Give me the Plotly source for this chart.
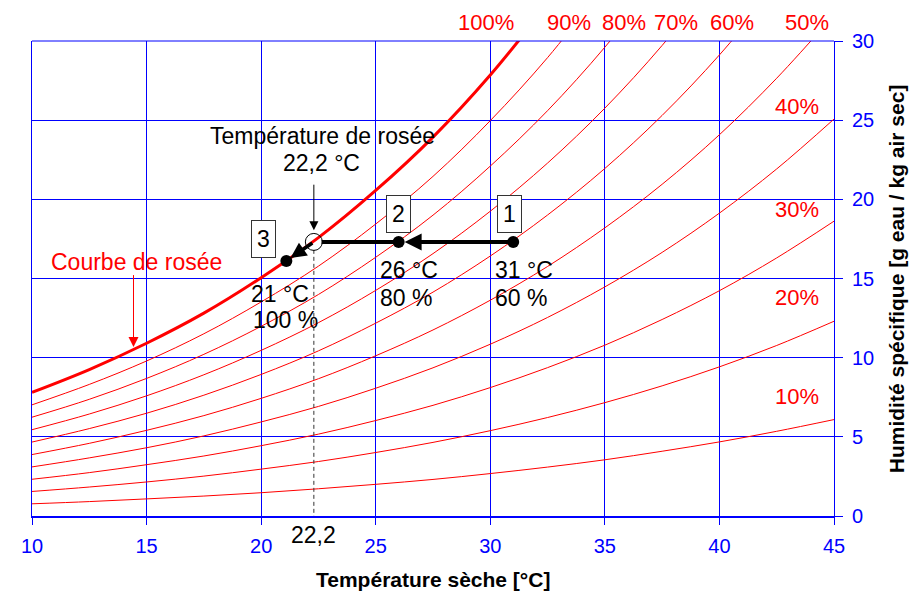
import plotly.graph_objects as go

# Dry-bulb temperatures (°C) at which the curves were read
temps = [10, 12.5, 15, 17.5, 20, 22.5, 25, 27.5, 30, 32.5, 35, 37.5, 40, 42.5, 45]

# Specific humidity (g water / kg dry air)
rh_100 = [7.81, 9.25, 10.91, 12.81, 15.05, 17.58, 20.56, 23.93, 27.85, 32.33]
rh_90 = [7.02, 8.31, 9.79, 11.51, 13.52, 15.78, 18.44, 21.45, 24.97, 28.95, 33.52]
rh_80 = [6.24, 7.37, 8.69, 10.21, 11.98, 13.99, 16.34, 19.00, 22.10, 25.60, 29.61, 34.19]
rh_70 = [5.45, 6.44, 7.59, 8.92, 10.46, 12.21, 14.25, 16.57, 19.25, 22.29, 25.76, 29.72, 34.24]
rh_60 = [4.67, 5.52, 6.49, 7.63, 8.94, 10.43, 12.18, 14.14, 16.42, 19.01, 21.95, 25.30, 29.12, 33.46]
rh_50 = [3.88, 4.59, 5.41, 6.34, 7.43, 8.67, 10.12, 11.75, 13.63, 15.76, 18.20, 20.95, 24.08, 27.65, 31.65]
rh_40 = [3.10, 3.67, 4.31, 5.06, 5.94, 6.92, 8.07, 9.36, 10.85, 12.54, 14.47, 16.65, 19.13, 21.92, 25.07]
rh_30 = [2.32, 2.74, 3.24, 3.79, 4.44, 5.17, 6.03, 6.99, 8.11, 9.37, 10.79, 12.41, 14.23, 16.30, 18.62]
rh_20 = [1.55, 1.83, 2.15, 2.52, 2.96, 3.44, 4.01, 4.65, 5.39, 6.22, 7.16, 8.22, 9.42, 10.77, 12.30]
rh_10 = [0.77, 0.91, 1.08, 1.26, 1.47, 1.72, 2.00, 2.31, 2.68, 3.09, 3.55, 4.09, 4.68, 5.35, 6.09]

thin_curves = [rh_90, rh_80, rh_70, rh_60, rh_50, rh_40, rh_30, rh_20, rh_10]

# Curve labels
top_labels = ["100%", "90%", "80%", "70%", "60%", "50%"]
top_label_x = [29.80, 33.43, 35.83, 38.10, 40.54, 43.81]
side_labels = ["40%", "30%", "20%", "10%"]
side_label_x = 43.39
side_label_y = [25.84, 19.36, 13.80, 7.56]

# Cooling process: 1 -> 2 -> dew point -> 3
pt_x = [31, 26, 21.1]
pt_y = [17.31, 17.31, 16.11]
pt_names = ["1", "2", "3"]
pt_box_x = [30.83, 25.99, 20.10]
pt_box_y = [19.10, 19.06, 17.52]
dew_x = 22.3
dew_y = 17.31
line_end_x = 22.64

x_ticks = [10, 15, 20, 25, 30, 35, 40, 45]
y_ticks = [0, 5, 10, 15, 20, 25, 30]

FONT = "Liberation Sans, Arial, sans-serif"
RED = "#FF0000"
BLUE = "#0000FF"

fig = go.Figure()

for c in thin_curves:
    fig.add_trace(go.Scatter(x=temps[:len(c)], y=c, mode="lines",
                             line=dict(color=RED, width=1, shape="spline"),
                             showlegend=False, hoverinfo="skip"))
fig.add_trace(go.Scatter(x=temps[:len(rh_100)], y=rh_100, mode="lines",
                         line=dict(color=RED, width=3, shape="spline"),
                         showlegend=False, hoverinfo="skip"))

# dashed vertical at dew point
fig.add_trace(go.Scatter(x=[dew_x, dew_x], y=[dew_y - 0.5, 0], mode="lines",
                         line=dict(color="#333333", width=1, dash="4px,3px"),
                         showlegend=False, hoverinfo="skip"))
# thick line 2 -> dew point
fig.add_trace(go.Scatter(x=[pt_x[1], line_end_x], y=[pt_y[1], dew_y], mode="lines",
                         line=dict(color="black", width=4),
                         showlegend=False, hoverinfo="skip"))
# dew point circle
fig.add_trace(go.Scatter(x=[dew_x], y=[dew_y], mode="markers",
                         marker=dict(symbol="circle-open", size=17, color="black",
                                     line=dict(color="black", width=1)),
                         showlegend=False, hoverinfo="skip"))
# state points
fig.add_trace(go.Scatter(x=pt_x, y=pt_y, mode="markers",
                         marker=dict(color="black", size=12),
                         showlegend=False, hoverinfo="skip"))

ann = []
for t, x in zip(top_labels, top_label_x):
    ann.append(dict(x=x, y=30, yshift=19, text=t, showarrow=False,
                    yanchor="middle",
                    font=dict(color=RED, size=22, family=FONT)))
for t, y in zip(side_labels, side_label_y):
    ann.append(dict(x=side_label_x, y=y, text=t, showarrow=False,
                    font=dict(color=RED, size=22, family=FONT)))
for t, x, y in zip(pt_names, pt_box_x, pt_box_y):
    ann.append(dict(x=x, y=y, text=t, showarrow=False,
                    font=dict(color="black", size=23, family=FONT),
                    bordercolor="#333333", borderwidth=1, borderpad=5,
                    bgcolor="white"))

# arrows
ann.append(dict(x=pt_x[1], y=pt_y[1], ax=pt_x[0], ay=pt_y[0], axref="x", ayref="y",
                showarrow=True, arrowhead=2, arrowsize=0.85, arrowwidth=4,
                arrowcolor="black", standoff=6, text=""))
ann.append(dict(x=pt_x[2], y=pt_y[2], ax=dew_x, ay=dew_y, axref="x", ayref="y",
                showarrow=True, arrowhead=2, arrowsize=0.9, arrowwidth=3.5,
                arrowcolor="black", standoff=5, text=""))
ann.append(dict(x=dew_x, y=18.05, ax=dew_x, ay=21.02, axref="x", ayref="y",
                showarrow=True, arrowhead=2, arrowsize=1.8, arrowwidth=1,
                arrowcolor="black", text=""))
ann.append(dict(x=14.43, y=10.68, ax=14.43, ay=15.31, axref="x", ayref="y",
                showarrow=True, arrowhead=2, arrowsize=2, arrowwidth=1,
                arrowcolor=RED, text=""))

txt = [
    ("Température de rosée", 22.68, 23.99, "center", "black"),
    ("22,2 °C", 22.64, 22.28, "center", "black"),
    ("26 °C", 25.12, 15.52, "left", "black"),
    ("80 %", 25.12, 13.75, "left", "black"),
    ("31 °C", 30.14, 15.52, "left", "black"),
    ("60 %", 30.14, 13.75, "left", "black"),
    ("21 °C", 19.45, 14.05, "left", "black"),
    ("100 %", 19.54, 12.36, "left", "black"),
    ("Courbe de rosée", 14.55, 16.05, "center", RED),
]
for t, x, y, xa, col in txt:
    ann.append(dict(x=x, y=y, text=t, showarrow=False, xanchor=xa,
                    font=dict(color=col, size=23, family=FONT)))

ann.append(dict(x=dew_x, y=0, yshift=-19, text="22,2", showarrow=False,
                yanchor="middle", font=dict(color="black", size=23, family=FONT)))

# axis titles
ann.append(dict(x=0.5, y=-0.1347, xref="paper", yref="paper", showarrow=False,
                yanchor="middle", text="<b>Température sèche [°C]</b>",
                font=dict(color="black", size=21, family=FONT)))
ann.append(dict(x=1.0782, y=0.5, xref="paper", yref="paper", showarrow=False,
                textangle=-90, xanchor="center", yanchor="middle",
                text="<b>Humidité spécifique [g eau / kg air sec]</b>",
                font=dict(color="black", size=21, family=FONT)))

fig.update_layout(
    width=924, height=594,
    margin=dict(l=24, r=98, t=33, b=86),
    paper_bgcolor="white", plot_bgcolor="white",
    font=dict(family=FONT),
    annotations=ann,
    shapes=[dict(type="line", xref="paper", yref="paper", x0=0, x1=1, y0=1, y1=1,
                 line=dict(color=BLUE, width=1))],
    xaxis=dict(range=[10, 45], tickvals=x_ticks, ticktext=[str(v) for v in x_ticks],
               showgrid=True, gridcolor=BLUE, gridwidth=1,
               showline=True, linecolor=BLUE, linewidth=2,
               ticks="outside", ticklen=7, tickcolor=BLUE,
               tickfont=dict(color=BLUE, size=20, family=FONT),
               ticklabelstandoff=4, automargin=False,
               zeroline=False),
    yaxis=dict(range=[0, 30], tickvals=y_ticks, side="right",
               showgrid=True, gridcolor=BLUE, gridwidth=1,
               showline=True, linecolor=BLUE, linewidth=1, mirror=True,
               ticks="outside", ticklen=8, tickcolor=BLUE,
               tickfont=dict(color=BLUE, size=20, family=FONT),
               ticklabelstandoff=5, automargin=False,
               zeroline=False),
)

fig.write_html("out.html")
